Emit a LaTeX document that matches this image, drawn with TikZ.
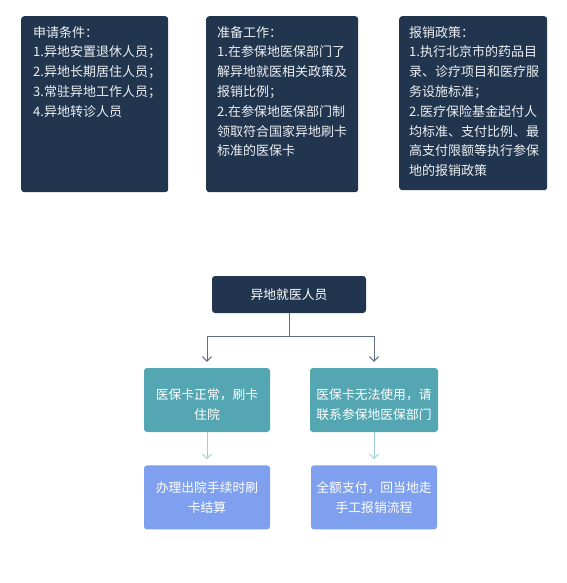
\documentclass[tikz,border=0pt]{standalone}
\usepackage{fontspec}
\setmainfont{Noto Sans CJK SC}
\usetikzlibrary{arrows.meta,positioning}
\definecolor{navy}{HTML}{22354F}
\definecolor{tealbox}{HTML}{54A7B2}
\definecolor{bluebox}{HTML}{7EA0EE}
\definecolor{linkgray}{HTML}{5F6E85}
\definecolor{linkteal}{HTML}{9FCFD6}
\definecolor{boxtext}{HTML}{EDF0F3}

\begin{document}
\begin{tikzpicture}[x=1pt,y=-1pt,
    infobox/.style={fill=navy, rounded corners=3pt, minimum width=147pt, minimum height=176pt, inner sep=0pt, anchor=north west},
    infotext/.style={anchor=north west, align=left, inner sep=0pt, text=boxtext, font=\fontsize{13}{19.8}\selectfont},
    flowbox/.style={rounded corners=3pt, minimum width=126pt, minimum height=64pt, align=center, inner sep=0pt, text=white, font=\fontsize{12.8}{20}\selectfont},
    flowtext/.style={align=center, inner sep=0pt, text=white, font=\fontsize{12.8}{20}\selectfont},
    branch/.style={draw=linkgray, line width=1pt, -{Straight Barb[length=4.5pt,width=9pt]}, shorten >=6pt},
    link/.style={draw=linkteal, line width=1pt, -{Straight Barb[length=4.5pt,width=9pt]}, shorten >=6pt}]
    \useasboundingbox (0,0) rectangle (566,583);

    % Info boxes on top
    \node[infobox] (cond) at (21,16) {};
    \node[infotext] (condtext) at ([xshift=12pt,yshift=-10pt]cond.north west)
        {申请条件：\\1.异地安置退休人员；\\2.异地长期居住人员；\\3.常驻异地工作人员；\\4.异地转诊人员};

    \node[infobox, minimum width=152pt] (prep) at (206,16) {};
    \node[infotext] (preptext) at ([xshift=11pt,yshift=-10pt]prep.north west)
        {准备工作：\\1.在参保地医保部门了\\解异地就医相关政策及\\报销比例；\\2.在参保地医保部门制\\领取符合国家异地刷卡\\标准的医保卡};

    \node[infobox, minimum width=148pt, minimum height=174pt] (policy) at (399,16) {};
    \node[infotext] (policytext) at ([xshift=10pt,yshift=-10pt]policy.north west)
        {报销政策：\\1.执行北京市的药品目\\录、诊疗项目和医疗服\\务设施标准；\\2.医疗保险基金起付人\\均标准、支付比例、最\\高支付限额等执行参保\\地的报销政策};

    % Flow chart
    \node[flowbox, fill=navy, minimum width=154pt, minimum height=37pt] (patient) at (289,294.5) {异地就医人员};
    \node[flowbox, fill=tealbox] (cardok) at (207,400) {};
    \node[flowtext, yshift=-5pt] (cardoktext) at (cardok) {医保卡正常，刷卡\\住院};
    \node[flowbox, fill=tealbox, minimum width=128pt] (cardfail) at (374,400) {};
    \node[flowtext, yshift=-5pt] (cardfailtext) at (cardfail) {医保卡无法使用，请\\联系参保地医保部门};
    \node[flowbox, fill=bluebox, below=33pt of cardok] (discharge) {办理出院手续时刷\\卡结算};
    \node[flowbox, fill=bluebox, below=33pt of cardfail] (fullpay) {全额支付，回当地走\\手工报销流程};

    % Connectors
    \coordinate (split) at ([yshift=-23pt]patient.south);
    \draw[branch] (patient.south) -- (split) -| (cardok.north);
    \draw[branch] (split) -| (cardfail.north);
    \draw[link] (cardok) -- (discharge);
    \draw[link] (cardfail) -- (fullpay);
\end{tikzpicture}
\end{document}
